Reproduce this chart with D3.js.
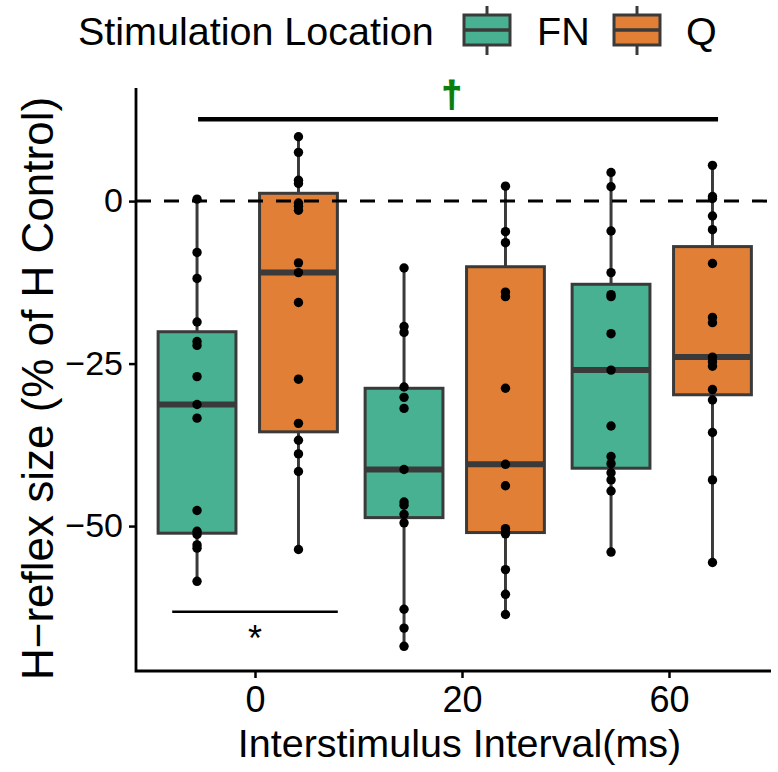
<!DOCTYPE html>
<html>
<head>
<meta charset="utf-8">
<script src="https://cdn.jsdelivr.net/npm/d3@7"></script>
<style>
  html, body { margin: 0; padding: 0; background: #fff; }
  svg { display: block; font-family: "Liberation Sans", Arial, Helvetica, sans-serif; }
</style>
</head>
<body>
<svg id="chart" width="778" height="772"></svg>
<script>
// ---------------- data ----------------
const intervals = ["0", "20", "60"];
const locations = ["FN", "Q"];

const pointsFN = [
  [0.3, -7.9, -11.9, -18.6, -21.6, -22.2, -27.0, -31.3, -33.4, -47.6, -50.8, -51.3, -52.9, -53.4, -58.5],
  [-10.3, -19.3, -20.2, -28.6, -30.2, -31.9, -41.3, -46.3, -46.8, -48.2, -49.5, -62.8, -65.7, -68.5],
  [4.4, 2.2, -4.6, -11.0, -14.4, -14.7, -20.4, -26.0, -34.6, -39.3, -40.4, -41.8, -42.9, -44.6, -54.0]
];
const pointsQ = [
  [9.9, 7.5, 3.2, 2.7, -0.3, -0.8, -1.4, -9.5, -11.0, -15.6, -27.4, -34.2, -36.8, -38.9, -41.6, -53.6],
  [2.3, -4.7, -6.4, -14.0, -14.7, -28.8, -40.5, -43.8, -50.4, -50.9, -51.2, -56.7, -60.5, -63.6],
  [5.5, 0.7, 0.4, -2.3, -4.4, -9.6, -17.9, -18.7, -24.0, -24.7, -25.4, -29.0, -30.6, -35.6, -42.9, -55.6]
];

// box statistics as drawn
const q1FN = [-51.1, -48.7, -41.1];
const medFN = [-31.3, -41.3, -26.0];
const q3FN = [-20.1, -28.8, -12.8];
const q1Q = [-35.5, -51.0, -29.8];
const medQ = [-11.0, -40.5, -24.0];
const q3Q = [1.2, -10.1, -7.0];

const yTicks = [0, -25, -50];
const referenceLine = 0;

// significance annotations
const starBar = { from: -0.4, to: 0.4, y: -63.2, label: "*", labelX: 0.0, labelY: -65.6 };
const daggerBar = { from: -0.275, to: 2.237, y: 12.6, label: "\u2020", labelX: 0.95, labelY: 16.4 };

// ---------------- layout ----------------
const colors = { FN: "#48B192", Q: "#E07F35" };
const boxStroke = "#3a3a3a";
const panel = { left: 136, right: 771, top: 88, bottom: 671 };

const svg = d3.select("#chart");

const x = d3.scaleLinear().domain([0, 2]).range([255, 669]);
const y = d3.scaleLinear().domain([-72.3, 17.4]).range([panel.bottom, panel.top]);
const xCat = d3.scaleOrdinal().domain(intervals).range([0, 1, 2]);

const dodge = { FN: -0.28, Q: 0.21 };
const halfW = 0.188;

const groups = [];
intervals.forEach((iv, i) => {
  groups.push({ loc: "FN", i, pts: pointsFN[i], q1: q1FN[i], med: medFN[i], q3: q3FN[i] });
  groups.push({ loc: "Q", i, pts: pointsQ[i], q1: q1Q[i], med: medQ[i], q3: q3Q[i] });
});
groups.forEach(g => {
  g.cx = xCat(intervals[g.i]) + dodge[g.loc];
  g.lo = d3.min(g.pts);
  g.hi = d3.max(g.pts);
});

// ---------------- boxes ----------------
const gBox = svg.append("g");
groups.forEach(g => {
  const cx = x(g.cx);
  gBox.append("line").attr("x1", cx).attr("x2", cx)
    .attr("y1", y(g.q3)).attr("y2", y(g.hi))
    .attr("stroke", boxStroke).attr("stroke-width", 3);
  gBox.append("line").attr("x1", cx).attr("x2", cx)
    .attr("y1", y(g.q1)).attr("y2", y(g.lo))
    .attr("stroke", boxStroke).attr("stroke-width", 3);
  gBox.append("rect")
    .attr("x", x(g.cx - halfW)).attr("width", x(g.cx + halfW) - x(g.cx - halfW))
    .attr("y", y(g.q3)).attr("height", y(g.q1) - y(g.q3))
    .attr("fill", colors[g.loc]).attr("stroke", boxStroke).attr("stroke-width", 3);
  gBox.append("line")
    .attr("x1", x(g.cx - halfW)).attr("x2", x(g.cx + halfW))
    .attr("y1", y(g.med)).attr("y2", y(g.med))
    .attr("stroke", boxStroke).attr("stroke-width", 6);
});

// ---------------- reference line ----------------
svg.append("line")
  .attr("x1", panel.left).attr("x2", panel.right)
  .attr("y1", y(referenceLine)).attr("y2", y(referenceLine))
  .attr("stroke", "#000").attr("stroke-width", 3)
  .attr("stroke-dasharray", "15,13");

// ---------------- points ----------------
const gPts = svg.append("g");
groups.forEach(g => {
  gPts.selectAll(null).data(g.pts).enter().append("circle")
    .attr("cx", x(g.cx)).attr("cy", d => y(d)).attr("r", 4.7)
    .attr("fill", "#000");
});

// ---------------- significance ----------------
svg.append("line")
  .attr("x1", x(starBar.from)).attr("x2", x(starBar.to))
  .attr("y1", y(starBar.y)).attr("y2", y(starBar.y))
  .attr("stroke", "#000").attr("stroke-width", 2.5);
svg.append("text")
  .attr("x", x(starBar.labelX)).attr("y", y(starBar.labelY))
  .attr("text-anchor", "middle").attr("dominant-baseline", "central")
  .attr("font-size", 36).attr("fill", "#000").attr("dy", "0.3em")
  .text(starBar.label);

svg.append("line")
  .attr("x1", x(daggerBar.from)).attr("x2", x(daggerBar.to))
  .attr("y1", y(daggerBar.y)).attr("y2", y(daggerBar.y))
  .attr("stroke", "#000").attr("stroke-width", 4.5);
svg.append("text")
  .attr("x", x(daggerBar.labelX)).attr("y", y(daggerBar.labelY))
  .attr("text-anchor", "middle").attr("dominant-baseline", "central")
  .attr("font-size", 36).attr("font-weight", "bold").attr("fill", "#0b7d0b")
  .attr("stroke", "#0b7d0b").attr("stroke-width", 1.2)
  .text(daggerBar.label);

// ---------------- axes ----------------
const yAxis = svg.append("g").attr("transform", `translate(${panel.left},0)`)
  .call(d3.axisLeft(y).tickValues(yTicks).tickSize(7).tickPadding(6)
    .tickFormat(d => d < 0 ? "\u2212" + Math.abs(d) : String(d)));
yAxis.select(".domain").remove();
yAxis.selectAll(".tick line").attr("stroke", "#000").attr("stroke-width", 2.5);
yAxis.selectAll(".tick text").attr("font-size", 34).attr("fill", "#000")
  .attr("font-family", "Liberation Sans, Arial, sans-serif");

const xAxis = svg.append("g").attr("transform", `translate(0,${panel.bottom})`)
  .call(d3.axisBottom(x).tickValues([0, 1, 2]).tickSize(7).tickPadding(8)
    .tickFormat((d, i) => intervals[i]));
xAxis.select(".domain").remove();
xAxis.selectAll(".tick line").attr("stroke", "#000").attr("stroke-width", 2.5);
xAxis.selectAll(".tick text").attr("font-size", 36).attr("fill", "#000")
  .attr("font-family", "Liberation Sans, Arial, sans-serif");

svg.append("path")
  .attr("d", `M${panel.left},${panel.top}V${panel.bottom}H${panel.right}`)
  .attr("fill", "none").attr("stroke", "#000").attr("stroke-width", 2.8);

// axis titles
svg.append("text")
  .attr("x", (panel.left + panel.right) / 2 + 6).attr("y", 757)
  .attr("text-anchor", "middle").attr("font-size", 39.5).attr("fill", "#000")
  .text("Interstimulus Interval(ms)");
svg.append("text")
  .attr("transform", `translate(53,${(panel.top + panel.bottom) / 2 + 9}) rotate(-90)`)
  .attr("text-anchor", "middle").attr("font-size", 44).attr("fill", "#000")
  .text("H\u2212reflex size (% of H Control)");

// ---------------- legend ----------------
const legend = svg.append("g");
legend.append("text").attr("x", 78).attr("y", 45)
  .attr("font-size", 39.5).attr("fill", "#000").text("Stimulation Location");

const legendItems = [
  { loc: "FN", x0: 464, tx: 537 },
  { loc: "Q", x0: 614, tx: 686 }
];
legendItems.forEach(it => {
  const cx = it.x0 + 23;
  legend.append("line").attr("x1", cx).attr("x2", cx).attr("y1", 6).attr("y2", 55)
    .attr("stroke", boxStroke).attr("stroke-width", 3);
  legend.append("rect").attr("x", it.x0).attr("y", 15).attr("width", 46).attr("height", 30)
    .attr("fill", colors[it.loc]).attr("stroke", boxStroke).attr("stroke-width", 3);
  legend.append("line").attr("x1", it.x0).attr("x2", it.x0 + 46).attr("y1", 30).attr("y2", 30)
    .attr("stroke", boxStroke).attr("stroke-width", 3.5);
  legend.append("text").attr("x", it.tx).attr("y", 45)
    .attr("font-size", 39.5).attr("fill", "#000").text(it.loc);
});
</script>
</body>
</html>
